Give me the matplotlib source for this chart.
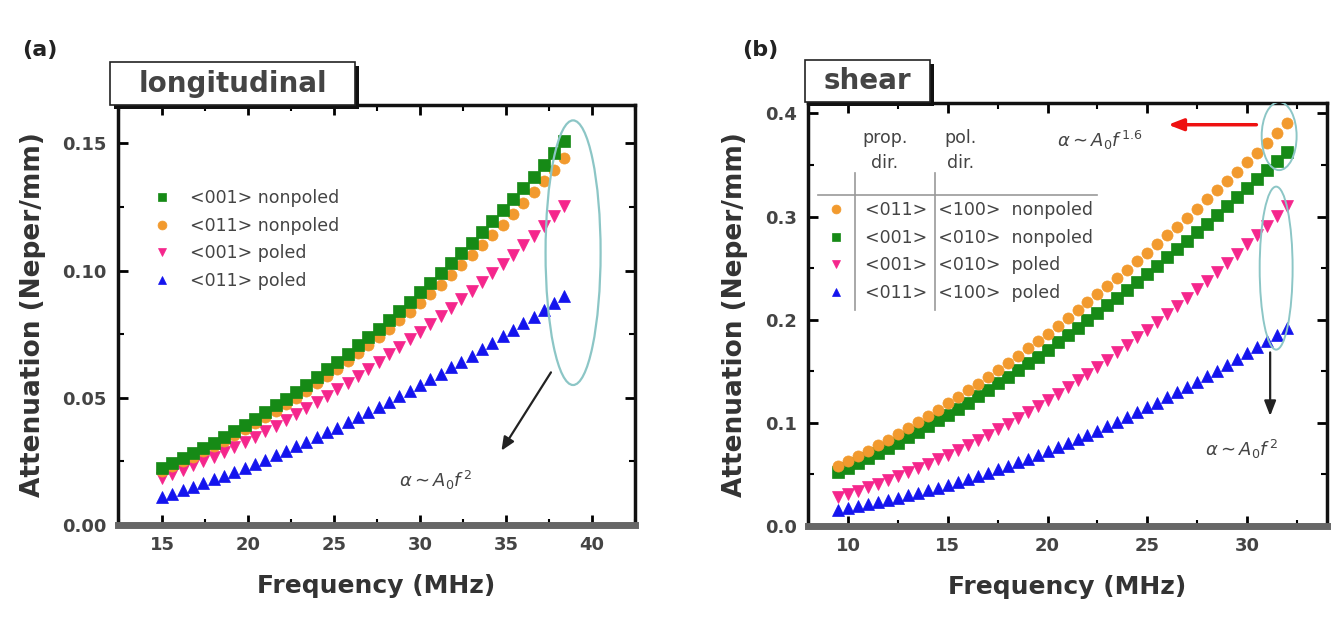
import matplotlib
matplotlib.use("Agg")
import matplotlib.pyplot as plt
from matplotlib.patches import Ellipse, Rectangle
from matplotlib.ticker import MultipleLocator
import numpy as np

plt.rcParams['font.family'] = ['DejaVu Sans']
plt.rcParams['mathtext.fontset'] = 'dejavusans'

###########################################################
### -------------------- DATA -----------------------------
###########################################################

# (a) longitudinal waves, attenuation in Neper/mm
freq_a = [15.0, 15.6, 16.2, 16.8, 17.4, 18.0, 18.6, 19.2, 19.8, 20.4,
          21.0, 21.6, 22.2, 22.8, 23.4, 24.0, 24.6, 25.2, 25.8, 26.4,
          27.0, 27.6, 28.2, 28.8, 29.4, 30.0, 30.6, 31.2, 31.8, 32.4,
          33.0, 33.6, 34.2, 34.8, 35.4, 36.0, 36.6, 37.2, 37.8, 38.4]
att_a_001_nonpoled = [0.0224, 0.0243, 0.0262, 0.0282, 0.0303, 0.0324, 0.0347, 0.0370, 0.0394, 0.0418,
                      0.0443, 0.0470, 0.0496, 0.0524, 0.0552, 0.0582, 0.0611, 0.0642, 0.0673, 0.0706,
                      0.0739, 0.0772, 0.0807, 0.0842, 0.0878, 0.0915, 0.0952, 0.0990, 0.1029, 0.1069,
                      0.1110, 0.1151, 0.1193, 0.1236, 0.1280, 0.1324, 0.1369, 0.1415, 0.1462, 0.1509]
att_a_011_nonpoled = [0.0214, 0.0232, 0.0250, 0.0269, 0.0289, 0.0309, 0.0331, 0.0353, 0.0376, 0.0399,
                      0.0423, 0.0449, 0.0474, 0.0500, 0.0527, 0.0556, 0.0584, 0.0613, 0.0643, 0.0674,
                      0.0706, 0.0737, 0.0771, 0.0804, 0.0838, 0.0874, 0.0909, 0.0945, 0.0983, 0.1021,
                      0.1060, 0.1099, 0.1139, 0.1180, 0.1222, 0.1264, 0.1307, 0.1351, 0.1396, 0.1441]
att_a_001_poled = [0.0186, 0.0202, 0.0217, 0.0234, 0.0251, 0.0269, 0.0288, 0.0307, 0.0327, 0.0347,
                   0.0368, 0.0390, 0.0412, 0.0435, 0.0458, 0.0483, 0.0507, 0.0533, 0.0559, 0.0586,
                   0.0613, 0.0641, 0.0670, 0.0699, 0.0729, 0.0759, 0.0790, 0.0822, 0.0854, 0.0887,
                   0.0921, 0.0955, 0.0990, 0.1026, 0.1062, 0.1099, 0.1136, 0.1174, 0.1213, 0.1252]
att_a_011_poled = [0.0110, 0.0123, 0.0136, 0.0150, 0.0164, 0.0179, 0.0194, 0.0209, 0.0225, 0.0241,
                   0.0257, 0.0274, 0.0291, 0.0309, 0.0327, 0.0345, 0.0364, 0.0383, 0.0403, 0.0423,
                   0.0443, 0.0464, 0.0485, 0.0506, 0.0528, 0.0550, 0.0572, 0.0595, 0.0619, 0.0642,
                   0.0666, 0.0691, 0.0716, 0.0741, 0.0767, 0.0792, 0.0819, 0.0846, 0.0873, 0.0900]
labels_a = ['<001> nonpoled', '<011> nonpoled', '<001> poled', '<011> poled']

# (b) shear waves
freq_b = [9.5, 10.0, 10.5, 11.0, 11.5, 12.0, 12.5, 13.0, 13.5, 14.0,
          14.5, 15.0, 15.5, 16.0, 16.5, 17.0, 17.5, 18.0, 18.5, 19.0,
          19.5, 20.0, 20.5, 21.0, 21.5, 22.0, 22.5, 23.0, 23.5, 24.0,
          24.5, 25.0, 25.5, 26.0, 26.5, 27.0, 27.5, 28.0, 28.5, 29.0,
          29.5, 30.0, 30.5, 31.0, 31.5, 32.0]
att_b_011_nonpoled = [0.0580, 0.0629, 0.0679, 0.0730, 0.0783, 0.0837, 0.0892, 0.0949, 0.1007, 0.1066,
                      0.1126, 0.1188, 0.1251, 0.1315, 0.1380, 0.1446, 0.1513, 0.1582, 0.1651, 0.1722,
                      0.1794, 0.1866, 0.1940, 0.2015, 0.2091, 0.2168, 0.2246, 0.2324, 0.2404, 0.2485,
                      0.2567, 0.2650, 0.2733, 0.2818, 0.2903, 0.2990, 0.3077, 0.3166, 0.3255, 0.3345,
                      0.3436, 0.3528, 0.3620, 0.3714, 0.3809, 0.3904]
att_b_001_nonpoled = [0.0520, 0.0565, 0.0610, 0.0657, 0.0706, 0.0756, 0.0807, 0.0859, 0.0912, 0.0967,
                      0.1023, 0.1080, 0.1138, 0.1197, 0.1258, 0.1319, 0.1382, 0.1446, 0.1511, 0.1576,
                      0.1643, 0.1711, 0.1780, 0.1850, 0.1921, 0.1993, 0.2066, 0.2140, 0.2215, 0.2291,
                      0.2368, 0.2446, 0.2524, 0.2604, 0.2684, 0.2766, 0.2848, 0.2932, 0.3016, 0.3101,
                      0.3187, 0.3274, 0.3361, 0.3450, 0.3540, 0.3630]
att_b_001_poled = [0.0280, 0.0310, 0.0341, 0.0374, 0.0409, 0.0445, 0.0482, 0.0521, 0.0561, 0.0603,
                   0.0647, 0.0692, 0.0738, 0.0786, 0.0835, 0.0886, 0.0939, 0.0992, 0.1048, 0.1104,
                   0.1163, 0.1223, 0.1284, 0.1347, 0.1411, 0.1476, 0.1544, 0.1612, 0.1683, 0.1754,
                   0.1828, 0.1902, 0.1978, 0.2056, 0.2134, 0.2215, 0.2297, 0.2380, 0.2465, 0.2552,
                   0.2639, 0.2729, 0.2819, 0.2912, 0.3005, 0.3100]
att_b_011_poled = [0.0155, 0.0172, 0.0191, 0.0210, 0.0230, 0.0251, 0.0274, 0.0297, 0.0321, 0.0346,
                   0.0372, 0.0399, 0.0427, 0.0456, 0.0486, 0.0517, 0.0549, 0.0582, 0.0616, 0.0651,
                   0.0687, 0.0724, 0.0762, 0.0801, 0.0841, 0.0882, 0.0924, 0.0967, 0.1011, 0.1056,
                   0.1102, 0.1149, 0.1197, 0.1246, 0.1296, 0.1347, 0.1399, 0.1452, 0.1507, 0.1562,
                   0.1618, 0.1675, 0.1734, 0.1793, 0.1853, 0.1915]
prop_dirs_b = ['<011>', '<001>', '<001>', '<011>']
pol_dirs_b = ['<100>', '<010>', '<010>', '<100>']
states_b = ['nonpoled', 'nonpoled', 'poled', 'poled']

###########################################################
### -------------------- STYLE ----------------------------
###########################################################

green, orange, pink, blue = '#168a16', '#f29a2e', '#f5268c', '#1414ee'
colors_a = [green, orange, pink, blue]
markers_a = ['s', 'o', 'v', '^']
colors_b = [orange, green, pink, blue]
markers_b = ['o', 's', 'v', '^']
text_gray = '#444444'
ellipse_col = '#8cc6c6'
marker_size = 8


def style_axes(ax, xlim, ylim, xticks, yticks, yfmt, xminor, yminor):
    ax.set_xlim(xlim)
    ax.set_ylim(ylim)
    ax.set_xticks(xticks)
    ax.set_yticks(yticks)
    ax.set_yticklabels([yfmt % v for v in yticks])
    ax.xaxis.set_minor_locator(MultipleLocator(xminor))
    ax.yaxis.set_minor_locator(MultipleLocator(yminor))
    ax.tick_params(which='both', direction='in', top=True, right=True, color='k')
    ax.tick_params(which='major', length=7, width=2, labelsize=13, labelcolor=text_gray, pad=8)
    ax.tick_params(which='minor', length=4, width=1.5)
    for lab in ax.get_xticklabels() + ax.get_yticklabels():
        lab.set_fontweight('bold')
    for sp in ax.spines.values():
        sp.set_linewidth(2.5)
        sp.set_color('#111111')
    ax.spines['bottom'].set_linewidth(5)
    ax.spines['bottom'].set_color('#666666')
    ax.set_xlabel('Frequency (MHz)', fontsize=18, fontweight='bold', color='#333333', labelpad=14)
    ax.set_ylabel('Attenuation (Neper/mm)', fontsize=19, fontweight='bold', color='#333333', labelpad=12)


def title_box(fig, x0, y0, w, h, text, size):
    W, H = fig.get_size_inches() * fig.dpi
    shadow = Rectangle((x0 + 4 / W, y0 - 4 / H), w, h, transform=fig.transFigure,
                       facecolor='#111111', edgecolor='none', zorder=5)
    box = Rectangle((x0, y0), w, h, transform=fig.transFigure,
                    facecolor='white', edgecolor='#222222', linewidth=1.2, zorder=6)
    fig.add_artist(shadow)
    fig.add_artist(box)
    fig.text(x0 + w / 2, y0 + h / 2, text, ha='center', va='center', fontsize=size,
             fontweight='bold', color=text_gray, zorder=7)


fig = plt.figure(figsize=(13.36, 6.22), dpi=100)
ax1 = fig.add_axes([0.0883, 0.156, 0.3870, 0.675])
ax2 = fig.add_axes([0.6048, 0.1543, 0.3885, 0.680])

###########################################################
### -------------------- PANEL (a) ------------------------
###########################################################

series_a = [att_a_001_nonpoled, att_a_011_nonpoled, att_a_001_poled, att_a_011_poled]
for i in range(len(series_a)):
    ax1.plot(freq_a, series_a[i], linestyle='none', marker=markers_a[i], ms=marker_size,
             color=colors_a[i], mec=colors_a[i], mew=0.5, label=labels_a[i], zorder=3 + (3 - i) * 0.1)

style_axes(ax1, (12.44, 42.5), (0, 0.165), [15, 20, 25, 30, 35, 40],
           [0.00, 0.05, 0.10, 0.15], '%.2f', 2.5, 0.025)

leg = ax1.legend(loc='upper left', bbox_to_anchor=(0.068, 0.80), frameon=False,
                 fontsize=12.5, handlelength=1.0, handletextpad=1.1, labelspacing=0.55,
                 borderpad=0, borderaxespad=0, markerscale=0.8)
for t in leg.get_texts():
    t.set_color(text_gray)

ax1.add_patch(Ellipse((38.9, 0.107), 3.2, 0.104, fill=False, edgecolor=ellipse_col, lw=1.6, zorder=4))
ax1.annotate('', xy=(34.65, 0.0283), xytext=(37.7, 0.0609),
             arrowprops=dict(arrowstyle='-|>,head_width=0.35,head_length=0.8', color='#222222', lw=1.6))
ax1.text(30.9, 0.0173, r'$\alpha \sim A_0 f^{\,2}$', fontsize=13, color=text_gray, ha='center', va='center')

###########################################################
### -------------------- PANEL (b) ------------------------
###########################################################

series_b = [att_b_011_nonpoled, att_b_001_nonpoled, att_b_001_poled, att_b_011_poled]
labels_b = []
for i in range(len(series_b)):
    labels_b.append(prop_dirs_b[i] + '  ' + pol_dirs_b[i] + '  ' + states_b[i])
    ax2.plot(freq_b, series_b[i], linestyle='none', marker=markers_b[i], ms=marker_size,
             color=colors_b[i], mec=colors_b[i], mew=0.5, label=labels_b[i], zorder=3 + (3 - i) * 0.1)

style_axes(ax2, (8.0, 34.0), (0, 0.41), [10, 15, 20, 25, 30],
           [0.0, 0.1, 0.2, 0.3, 0.4], '%.1f', 2.5, 0.05)

leg2 = ax2.legend(loc='upper left', bbox_to_anchor=(0.037, 0.768), frameon=False,
                  fontsize=12.5, handlelength=1.0, handletextpad=1.2, labelspacing=0.55,
                  borderpad=0, borderaxespad=0, markerscale=0.8)
for t in leg2.get_texts():
    t.set_color(text_gray)

# table header and rules of the legend
ax2.text(0.148, 0.887, 'prop.\ndir.', transform=ax2.transAxes, fontsize=12.5, color=text_gray,
         ha='center', va='center', linespacing=1.5)
ax2.text(0.293, 0.887, 'pol.\ndir.', transform=ax2.transAxes, fontsize=12.5, color=text_gray,
         ha='center', va='center', linespacing=1.5)
ax2.plot([0.019, 0.557], [0.7825, 0.7825], transform=ax2.transAxes, color='#999999', lw=1.2)
ax2.plot([0.0906, 0.0906], [0.511, 0.834], transform=ax2.transAxes, color='#999999', lw=1.2)
ax2.plot([0.2447, 0.2447], [0.511, 0.834], transform=ax2.transAxes, color='#999999', lw=1.2)

ax2.add_patch(Ellipse((31.6, 0.378), 1.75, 0.066, fill=False, edgecolor=ellipse_col, lw=1.4, zorder=4))
ax2.add_patch(Ellipse((31.45, 0.25), 1.65, 0.158, fill=False, edgecolor=ellipse_col, lw=1.4, zorder=4))
ax2.annotate('', xy=(25.9, 0.389), xytext=(30.6, 0.389),
             arrowprops=dict(arrowstyle='-|>,head_width=0.35,head_length=0.9', color='#ee1111', lw=2.5))
ax2.text(22.6, 0.374, r'$\alpha \sim A_0 f^{\,1.6}$', fontsize=13, color=text_gray, ha='center', va='center')
ax2.annotate('', xy=(31.15, 0.104), xytext=(31.15, 0.171),
             arrowprops=dict(arrowstyle='-|>,head_width=0.35,head_length=0.9', color='#222222', lw=1.6))
ax2.text(29.7, 0.074, r'$\alpha \sim A_0 f^{\,2}$', fontsize=13, color=text_gray, ha='center', va='center')

###########################################################
### -------------------- LABELS ---------------------------
###########################################################

title_box(fig, 0.0823, 0.8312, 0.1834, 0.0691, 'longitudinal', 20)
title_box(fig, 0.6026, 0.836, 0.0936, 0.0675, 'shear', 20)
fig.text(0.030, 0.92, '(a)', fontsize=16, fontweight='bold', color='#222222', ha='center', va='center')
fig.text(0.569, 0.92, '(b)', fontsize=16, fontweight='bold', color='#222222', ha='center', va='center')

plt.savefig('out.png', dpi=100)
